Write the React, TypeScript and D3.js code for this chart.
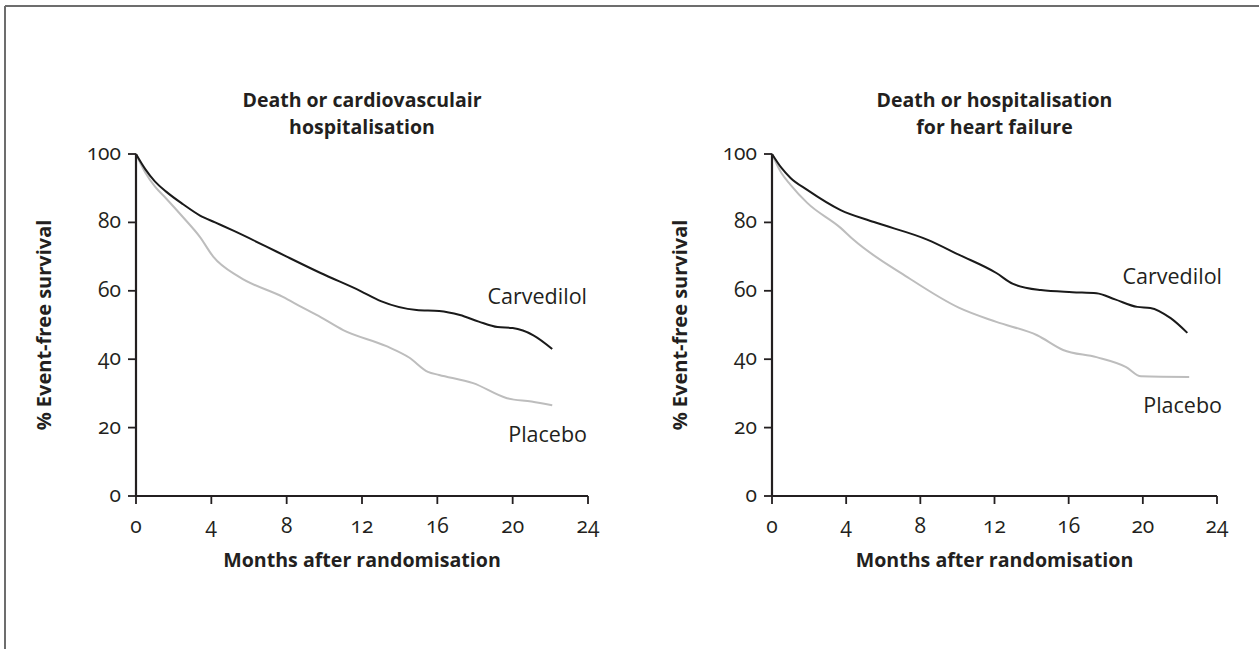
import React from "react";
import * as d3 from "d3";

const monthTicks = [0, 4, 8, 12, 16, 20, 24];
const survivalTicks = [0, 20, 40, 60, 80, 100];

const leftTitle = ["Death or cardiovasculair", "hospitalisation"];
const rightTitle = ["Death or hospitalisation", "for heart failure"];

const leftCarvMonths = [0, 0.5, 1, 1.6, 2.5, 3.4, 4.2, 5.2, 6.9, 8, 9.8, 11.9, 13, 14.9, 16.1, 17.2, 18.2, 19.2, 20, 21.1, 22.1];
const leftCarvValues = [100, 95.5, 92, 89, 85.3, 82, 80, 77.5, 73, 70, 65.2, 60, 57, 54.4, 54.1, 52.9, 51, 49.4, 49.1, 47, 43];

const leftPlacMonths = [0, 0.5, 1, 1.6, 2.5, 3.4, 4.1, 5.5, 7.8, 8.8, 9.8, 11, 13.3, 14.5, 15.5, 16.1, 17.9, 19.7, 21, 22.1];
const leftPlacValues = [100, 94.5, 90.5, 87, 81.5, 75.7, 70, 64, 58.2, 55.2, 52.3, 48.5, 43.8, 40.5, 36.3, 35.4, 33, 28.6, 27.6, 26.5];

const rightCarvMonths = [0, 0.5, 1, 1.9, 3.7, 5.5, 8.4, 10.1, 12.1, 13, 14.5, 16.2, 17.5, 18.5, 19.7, 20.4, 21.5, 22.4];
const rightCarvValues = [100, 96, 93, 89.5, 83.6, 80.1, 74.9, 70.5, 65.2, 62, 60.2, 59.6, 59.3, 57.5, 55.3, 55, 52, 47.7];

const rightPlacMonths = [0, 0.5, 1, 1.9, 3.7, 4.4, 7.3, 10.1, 12.1, 14.3, 15.7, 17.5, 19.1, 19.9, 22.5];
const rightPlacValues = [100, 94.5, 91, 85.7, 78.4, 74.9, 64, 55, 50.9, 47, 42.7, 40.6, 37.7, 35, 34.8];

const FONT = "'Open Sans', 'DejaVu Sans', sans-serif";
const INK = "#231f20";

type PanelProps = {
  x0: number;
  x1: number;
  title: string[];
  carvM: number[];
  carvV: number[];
  placM: number[];
  placV: number[];
  carvLabelY: number;
  placLabelY: number;
  labelRight: number;
};

function Panel(p: PanelProps) {
  const x = d3.scaleLinear().domain([0, 24]).range([p.x0, p.x1]);
  const y = d3.scaleLinear().domain([0, 100]).range([496, 154]);
  const line = d3
    .line<[number, number]>()
    .x((d) => x(d[0]))
    .y((d) => y(d[1]))
    .curve(d3.curveMonotoneX);
  const carv = p.carvM.map((m, i) => [m, p.carvV[i]] as [number, number]);
  const plac = p.placM.map((m, i) => [m, p.placV[i]] as [number, number]);
  const cx = (p.x0 + p.x1) / 2;
  const cy = (y(0) + y(100)) / 2;
  return (
    <g fontFamily={FONT} fill={INK}>
      <text textAnchor="middle" fontWeight="bold" fontSize={19.5}>
        <tspan x={cx} y={107}>{p.title[0]}</tspan>
        <tspan x={cx} y={134}>{p.title[1]}</tspan>
      </text>
      <path d={line(plac) || ""} fill="none" stroke="#bdbdbd" strokeWidth={2} />
      <path d={line(carv) || ""} fill="none" stroke="#1a1a1a" strokeWidth={2} />
      <line x1={x(0)} x2={x(0)} y1={y(100)} y2={y(0)} stroke={INK} strokeWidth={2.2} />
      <line x1={x(0)} x2={x(24)} y1={y(0)} y2={y(0)} stroke={INK} strokeWidth={2.2} />
      {survivalTicks.map((t) => (
        <g key={"y" + t}>
          <line x1={x(0) - 8} x2={x(0)} y1={y(t)} y2={y(t)} stroke={INK} strokeWidth={1.8} />
          <text
            x={x(0) - 15}
            y={y(t) + 6}
            textAnchor="end"
            fontSize={21}
            style={{ fontVariantNumeric: "oldstyle-nums" }}
          >
            {t}
          </text>
        </g>
      ))}
      {monthTicks.map((t) => (
        <g key={"x" + t}>
          <line x1={x(t)} x2={x(t)} y1={y(0)} y2={y(0) + 8} stroke={INK} strokeWidth={1.8} />
          <text
            x={x(t)}
            y={533}
            textAnchor="middle"
            fontSize={21}
            style={{ fontVariantNumeric: "oldstyle-nums" }}
          >
            {t}
          </text>
        </g>
      ))}
      <text x={cx} y={567} textAnchor="middle" fontWeight="bold" fontSize={19.6}>
        Months after randomisation
      </text>
      <text
        transform={`translate(${x(0) - 85},${cy}) rotate(-90)`}
        textAnchor="middle"
        fontWeight="bold"
        fontSize={20}
      >
        % Event-free survival
      </text>
      <text x={p.labelRight} y={p.carvLabelY} textAnchor="end" fontSize={21.5}>
        Carvedilol
      </text>
      <text x={p.labelRight} y={p.placLabelY} textAnchor="end" fontSize={21.5}>
        Placebo
      </text>
    </g>
  );
}

export default function App() {
  return (
    <svg
      width={1259}
      height={649}
      style={{ position: "absolute", left: 0, top: 0, background: "#fff" }}
    >
      <rect x={0} y={0} width={1259} height={649} fill="#fff" />
      <line x1={5} x2={1259} y1={6} y2={6} stroke="#6d6d6d" strokeWidth={2} />
      <line x1={5} x2={5} y1={6} y2={649} stroke="#6d6d6d" strokeWidth={2} />
      <Panel
        x0={136}
        x1={588}
        title={leftTitle}
        carvM={leftCarvMonths}
        carvV={leftCarvValues}
        placM={leftPlacMonths}
        placV={leftPlacValues}
        carvLabelY={304}
        placLabelY={442}
        labelRight={587}
      />
      <Panel
        x0={772}
        x1={1217}
        title={rightTitle}
        carvM={rightCarvMonths}
        carvV={rightCarvValues}
        placM={rightPlacMonths}
        placV={rightPlacValues}
        carvLabelY={284}
        placLabelY={413}
        labelRight={1222}
      />
    </svg>
  );
}
